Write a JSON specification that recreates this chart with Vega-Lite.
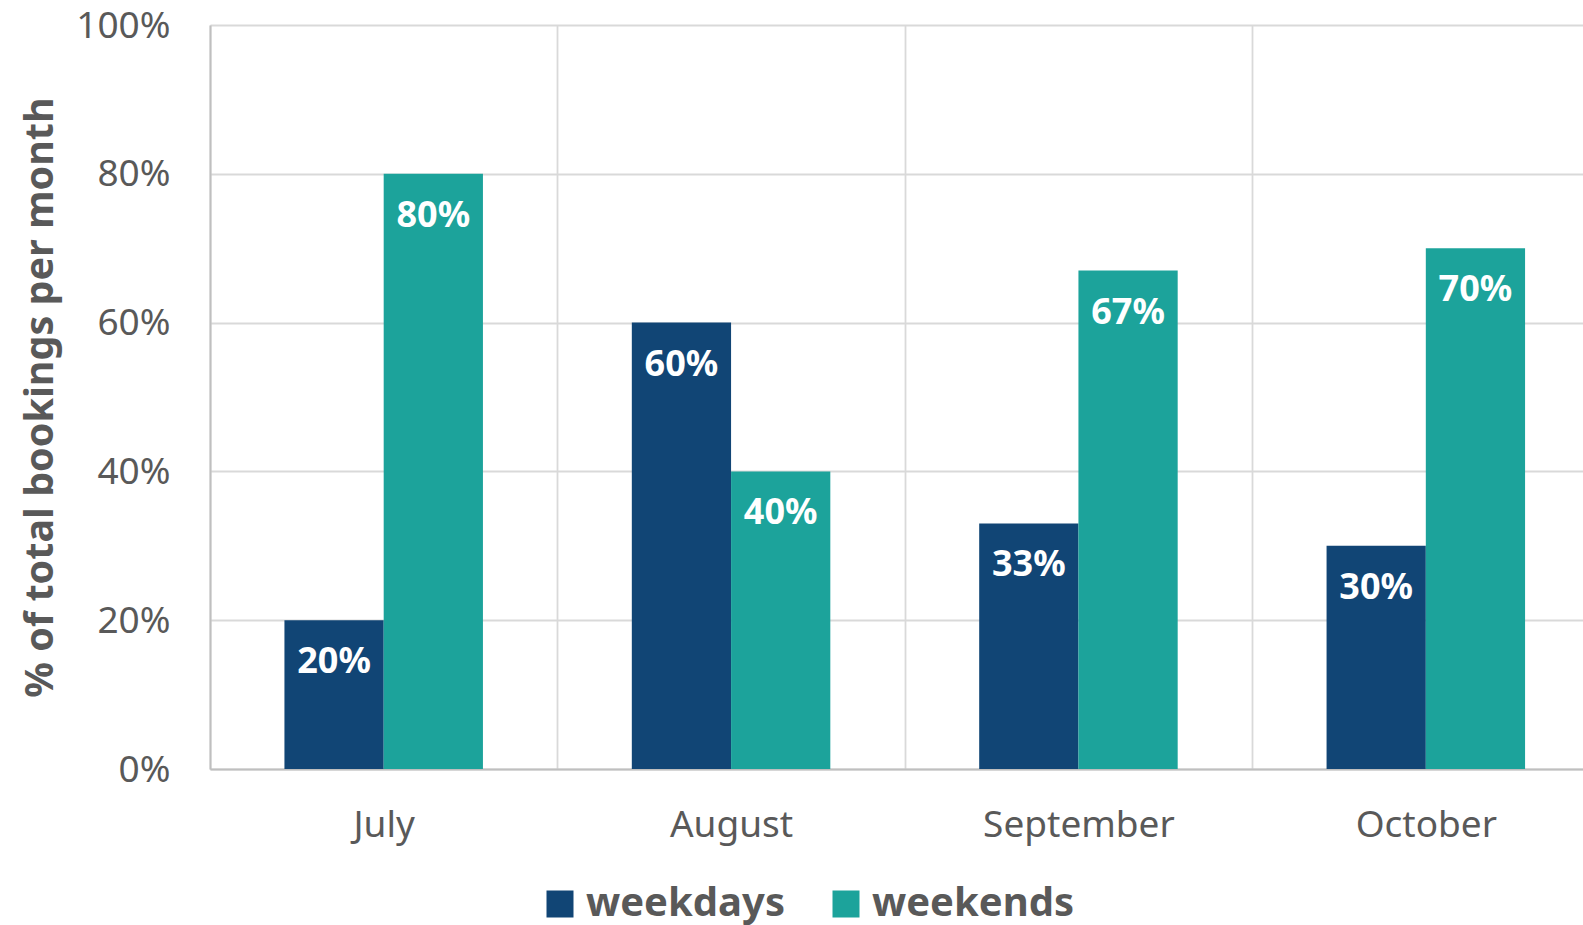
{
  "$schema": "https://vega.github.io/schema/vega-lite/v6.json",
  "autosize": {"type": "none"},
  "width": 1373,
  "height": 744,
  "padding": {"left": 210, "top": 25, "right": 0, "bottom": 156},
  "background": "white",
  "config": {"view": {"stroke": null}, "font": "Noto Sans"},
  "data": {"values": [
    {"month": "July", "series": "weekdays", "share": 0.20},
    {"month": "July", "series": "weekends", "share": 0.80},
    {"month": "August", "series": "weekdays", "share": 0.60},
    {"month": "August", "series": "weekends", "share": 0.40},
    {"month": "September", "series": "weekdays", "share": 0.33},
    {"month": "September", "series": "weekends", "share": 0.67},
    {"month": "October", "series": "weekdays", "share": 0.30},
    {"month": "October", "series": "weekends", "share": 0.70}
  ]},
  "encoding": {
    "x": {
      "field": "month", "type": "nominal", "sort": ["July", "August", "September", "October"],
      "scale": {"range": [0, 1389.5], "paddingInner": 0, "paddingOuter": 0},
      "axis": {"title": null, "labelAngle": 0, "labelFont": "Noto Sans", "labelFontSize": 37, "labelColor": "#595959", "labelPadding": 38, "labelLimit": 400, "ticks": false, "grid": true, "tickBand": "extent", "gridColor": "#d9d9d9", "gridWidth": 1.8, "domainColor": "#bfbfbf", "domainWidth": 2}
    },
    "xOffset": {"field": "series", "type": "nominal", "scale": {"paddingInner": 0, "paddingOuter": 0.75}},
    "y": {
      "field": "share", "type": "quantitative",
      "scale": {"domain": [0, 1]},
      "axis": {"title": "% of total bookings per month", "titleFont": "Noto Sans", "titleFontSize": 39.5, "titleFontWeight": "bold", "titleColor": "#595959", "titlePadding": 15, "values": [0, 0.2, 0.4, 0.6, 0.8, 1], "format": ".0%", "labelFont": "Noto Sans", "labelFontSize": 37, "labelColor": "#595959", "labelPadding": 40, "labelOffset": 1, "ticks": false, "grid": true, "gridColor": "#d9d9d9", "gridWidth": 1.8, "domainColor": "#bfbfbf", "domainWidth": 2}
    }
  },
  "layer": [
    {
      "mark": {"type": "bar"},
      "encoding": {
        "color": {
          "field": "series", "type": "nominal",
          "scale": {"domain": ["weekdays", "weekends"], "range": ["#114575", "#1ca39b"]},
          "legend": {"title": null, "orient": "none", "legendX": 330, "legendY": 859, "direction": "horizontal", "columns": 2, "symbolType": "square", "symbolSize": 729, "symbolStrokeWidth": 0, "symbolOpacity": 1, "labelFont": "Noto Sans", "labelFontSize": 40, "labelFontWeight": "bold", "labelColor": "#595959", "labelOffset": 6, "columnPadding": 41, "labelLimit": 400, "clipHeight": 40}
        }
      }
    },
    {
      "mark": {"type": "text", "color": "white", "fontWeight": "bold", "fontSize": 36, "font": "Noto Sans", "dy": 42, "baseline": "middle", "align": "center"},
      "encoding": {"text": {"field": "share", "type": "quantitative", "format": ".0%"}, "detail": {"field": "series"}}
    }
  ]
}
